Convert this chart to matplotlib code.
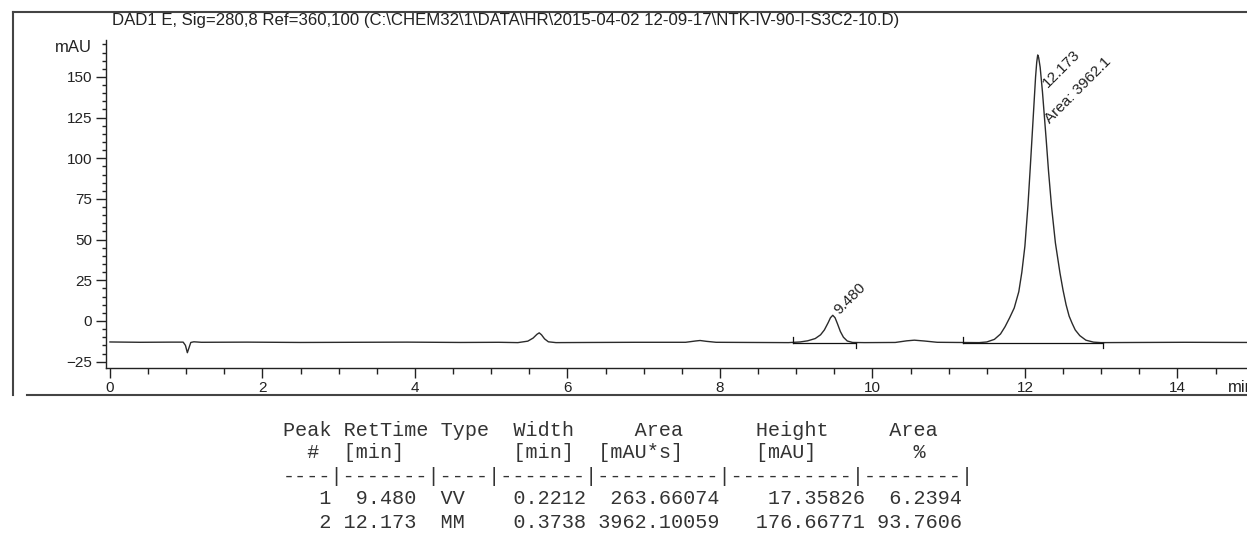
import matplotlib
matplotlib.use("Agg")
import matplotlib.pyplot as plt
from matplotlib.lines import Line2D
from matplotlib.ticker import MultipleLocator

# === Chromatogram trace (time in min, signal in mAU) ===
time_min = [
    0.00, 0.40, 0.80, 0.96, 0.99, 1.015, 1.04, 1.06, 1.10, 1.20,
    1.80, 2.50, 3.20, 3.90, 4.60, 5.10, 5.35, 5.48, 5.55, 5.60,
    5.63, 5.66, 5.70, 5.75, 5.85, 6.30, 6.90, 7.55, 7.68, 7.74,
    7.82, 7.95, 8.40, 8.90, 9.05, 9.15, 9.25, 9.32, 9.37, 9.42,
    9.45, 9.48, 9.51, 9.54, 9.58, 9.62, 9.67, 9.74, 9.90, 10.30,
    10.45, 10.55, 10.68, 10.85, 11.10, 11.40, 11.50, 11.60, 11.68, 11.74,
    11.80, 11.86, 11.92, 11.96, 12.00, 12.04, 12.07, 12.10, 12.12, 12.14,
    12.155, 12.168, 12.18, 12.20, 12.23, 12.26, 12.28, 12.31, 12.35, 12.40,
    12.46, 12.50, 12.54, 12.58, 12.62, 12.66, 12.72, 12.80, 12.90, 13.00,
    13.50, 14.10, 14.92,
]
signal_mau = [
    -12.9, -13.1, -13.0, -13.0, -15.0, -19.5, -16.0, -13.2, -12.8, -13.1,
    -13.0, -13.2, -13.1, -13.0, -13.2, -13.1, -13.3, -12.4, -10.5, -8.2,
    -7.3, -8.5, -11.0, -12.8, -13.3, -13.2, -13.1, -13.1, -12.3, -12.0,
    -12.5, -13.1, -13.2, -13.3, -12.9, -12.2, -10.8, -8.5, -5.5, -1.0,
    2.0, 3.5, 2.0, -1.5, -6.5, -10.0, -12.3, -13.2, -13.3, -13.2,
    -12.2, -11.8, -12.3, -13.1, -13.2, -13.3, -12.9, -11.3, -8.0, -3.5,
    2.0, 8.0, 18.0, 30.0, 46.0, 71.0, 94.0, 118.0, 134.0, 150.0,
    159.0, 163.5, 162.0, 156.0, 141.0, 123.0, 111.0, 92.0, 70.0, 48.0,
    29.5, 19.0, 10.0, 3.0, -1.5, -5.5, -9.0, -11.8, -13.0, -13.3,
    -13.2, -13.1, -13.2,
]

# Integration events: (start, end, baseline level)
baseline_starts = [8.96, 11.19]
baseline_ends = [9.79, 13.03]
baseline_level = [-13.3, -13.3]

# Peak annotations
peak_rt = [9.480, 12.173]
peak_area = [263.66074, 3962.10059]

title = r"DAD1 E, Sig=280,8 Ref=360,100 (C:\CHEM32\1\DATA\HR\2015-04-02 12-09-17\NTK-IV-90-I-S3C2-10.D)"

table_rows = [
    "Peak RetTime Type  Width     Area      Height     Area",
    "  #  [min]         [min]  [mAU*s]      [mAU]        %",
    "----|-------|----|-------|----------|----------|--------|",
    "   1  9.480  VV    0.2212  263.66074    17.35826  6.2394",
    "   2 12.173  MM    0.3738 3962.10059   176.66771 93.7606",
]

W, H = 1247, 533
plt.rcParams["font.family"] = ["Liberation Sans", "DejaVu Sans"]
fig = plt.figure(figsize=(W / 100, H / 100), dpi=100)
fig.patch.set_facecolor("white")

# axes placed in pixel terms
ax_l, ax_r, ax_t, ax_b = 106, 1247, 40, 368
ax = fig.add_axes([ax_l / W, 1 - ax_b / H, (ax_r - ax_l) / W, (ax_b - ax_t) / H])

ax.plot(time_min, signal_mau, color="#2b2b2b", lw=1.0, solid_joinstyle="round")

# integration baselines with start/end ticks
for s, e, lv in zip(baseline_starts, baseline_ends, baseline_level):
    ax.plot([s, e], [lv, lv], color="#111111", lw=0.9)
    ax.plot([s, s], [lv, lv + 3.5], color="#111111", lw=0.9)
    ax.plot([e, e], [lv, lv - 3.5], color="#111111", lw=0.9)

# peak labels
lbl_kw = dict(rotation=45, rotation_mode="anchor", ha="left", va="baseline",
              fontsize=11, color="#222222")
ax.text(9.56, 3.5, f"{peak_rt[0]:.3f}", **lbl_kw)
ax.text(12.295, 143, f"{peak_rt[1]:.3f}", **lbl_kw)
ax.text(12.325, 121, f"Area: {peak_area[1]:.1f}", **lbl_kw)

for side in ["top", "right"]:
    ax.spines[side].set_visible(False)
for side in ["left", "bottom"]:
    ax.spines[side].set_color("#222222")
    ax.spines[side].set_linewidth(1.0)

ax.set_xticks(range(0, 16, 2))
ax.xaxis.set_minor_locator(MultipleLocator(0.5))
ax.yaxis.set_major_locator(MultipleLocator(25))
ax.yaxis.set_minor_locator(MultipleLocator(5))
ax.set_xlim(-0.052, 14.913)
ax.set_ylim(-28.9, 172.7)
ax.tick_params(axis="x", which="major", length=7, width=1, pad=2, labelsize=11, colors="#222222")
ax.tick_params(axis="x", which="minor", length=4, width=1, colors="#222222")
ax.tick_params(axis="y", which="major", length=7, width=1, pad=3, labelsize=11, colors="#222222")
ax.tick_params(axis="y", which="minor", length=3, width=1, colors="#222222")

fig.text(92 / W, 1 - 48 / H, "mAU", ha="right", va="center", fontsize=12, color="#222222")
fig.text(1228 / W, 1 - 388 / H, "min", ha="left", va="center", fontsize=12, color="#222222")
fig.text(112 / W, 1 - 20 / H, title, ha="left", va="center", fontsize=12.1, color="#222222")

# report frame
frame_kw = dict(transform=fig.transFigure, color="#444444", lw=1.5)
fig.add_artist(Line2D([13 / W, 1.0], [1 - 12 / H, 1 - 12 / H], **frame_kw))
fig.add_artist(Line2D([13 / W, 13 / W], [1 - 12 / H, 1 - 395 / H], **frame_kw))
fig.add_artist(Line2D([27 / W, 1.0], [1 - 395 / H, 1 - 395 / H], **frame_kw))

# peak table
row_y = [431, 453, 476, 498, 522]
for txt, y in zip(table_rows, row_y):
    fig.text(283 / W, 1 - y / H, txt, ha="left", va="center", fontsize=14.5,
             family="Liberation Mono", color="#333333")

fig.savefig("out.png", dpi=100)
